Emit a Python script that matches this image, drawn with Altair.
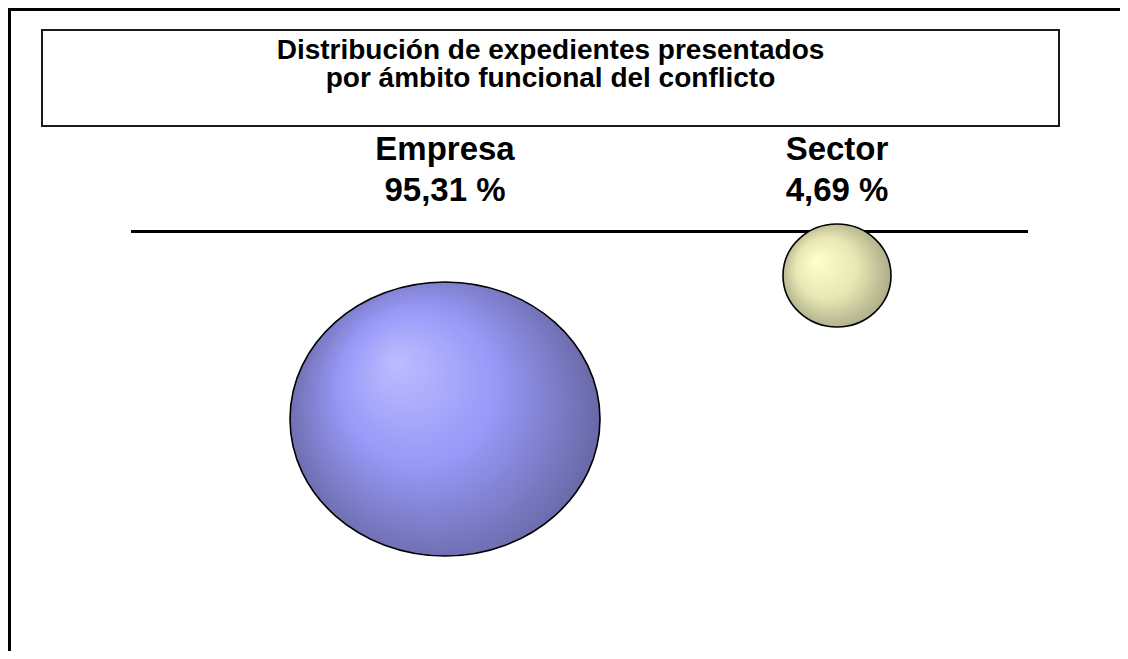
import altair as alt
import pandas as pd

# ---- data ----
categorias = ["Empresa", "Sector"]
porcentajes = [95.31, 4.69]
titulo = ["Distribución de expedientes presentados", "por ámbito funcional del conflicto"]

df = pd.DataFrame({"categoria": categorias, "valor": porcentajes})

W, H = 1112, 643
FONT = "Liberation Sans"

x_scale = alt.Scale(type="point", domain=categorias, range=[437, 829], padding=0)
y_scale = alt.Scale(domain=[0, 100], range=[260.1, 418.4])
size_scale = alt.Scale(domain=[4.69, 95.31], range=[11664, 96100])

base = alt.Chart(df)
one = alt.Data(values=[{"k": 1}])

grad_empresa = {
    "gradient": "radial",
    "x1": 0.34, "y1": 0.31, "r1": 0,
    "x2": 0.5, "y2": 0.5, "r2": 0.56,
    "stops": [
        {"offset": 0.0, "color": "#BCBCFF"},
        {"offset": 0.45, "color": "#9898F8"},
        {"offset": 1.0, "color": "#606098"},
    ],
}
grad_sector = {
    "gradient": "radial",
    "x1": 0.3, "y1": 0.36, "r1": 0,
    "x2": 0.5, "y2": 0.5, "r2": 0.56,
    "stops": [
        {"offset": 0.0, "color": "#FFFFCE"},
        {"offset": 0.5, "color": "#E8E8B4"},
        {"offset": 1.0, "color": "#A2A282"},
    ],
}

ellipse_big = "M-1,0 A1,0.884 0 1,1 1,0 A1,0.884 0 1,1 -1,0 Z"
ellipse_small = "M-1,0 A1,0.954 0 1,1 1,0 A1,0.954 0 1,1 -1,0 Z"

enc = dict(
    x=alt.X("categoria:N", scale=x_scale, axis=None),
    y=alt.Y("valor:Q", scale=y_scale, axis=None),
    size=alt.Size("valor:Q", scale=size_scale, legend=None),
)

bubble_empresa = base.transform_filter(alt.datum.categoria == "Empresa").mark_point(
    shape=ellipse_big, filled=True, fill=grad_empresa, stroke="#000000",
    strokeWidth=1.6, opacity=1, fillOpacity=1, strokeOpacity=1
).encode(**enc)

bubble_sector = base.transform_filter(alt.datum.categoria == "Sector").mark_point(
    shape=ellipse_small, filled=True, fill=grad_sector, stroke="#000000",
    strokeWidth=1.6, opacity=1, fillOpacity=1, strokeOpacity=1
).encode(**enc)

labels = base.transform_calculate(
    etiqueta="datum.categoria + '\\n' + replace(format(datum.valor, '.2f'), '.', ',') + ' %'"
).mark_text(
    font=FONT, fontSize=33, fontWeight="bold", color="#000000",
    align="center", baseline="alphabetic", lineBreak="\n", lineHeight=41
).encode(
    x=alt.X("categoria:N", scale=x_scale, axis=None),
    y=alt.value(152),
    text="etiqueta:N",
)

baseline_rule = alt.Chart(one).mark_rule(color="#000000", strokeWidth=3).encode(
    x=alt.value(123), x2=alt.value(1020), y=alt.value(223.5)
)

title_box = alt.Chart(one).mark_rect(
    fill="#FFFFFF", stroke="#1A1A1A", strokeWidth=2
).encode(
    x=alt.value(34), x2=alt.value(1051), y=alt.value(22), y2=alt.value(118)
)

title_text = alt.Chart(one).mark_text(
    font=FONT, fontSize=28, fontWeight="bold", color="#000000",
    align="center", baseline="alphabetic", lineHeight=28
).encode(
    x=alt.value(542.5), y=alt.value(51), text=alt.value(titulo)
)

border_top = alt.Chart(one).mark_rule(color="#000000", strokeWidth=3).encode(
    x=alt.value(0), x2=alt.value(W), y=alt.value(1.5)
)
border_left = alt.Chart(one).mark_rule(color="#000000", strokeWidth=3).encode(
    x=alt.value(1.5), y=alt.value(0), y2=alt.value(H)
)

chart = alt.layer(
    border_top, border_left, title_box, title_text, baseline_rule,
    bubble_empresa, bubble_sector, labels
).properties(
    width=W, height=H,
    autosize=alt.AutoSizeParams(type="none"),
    padding=0,
    background="#FFFFFF",
).configure_view(stroke=None)

chart.save("out.html", embed_options={"renderer": "svg", "actions": False})
